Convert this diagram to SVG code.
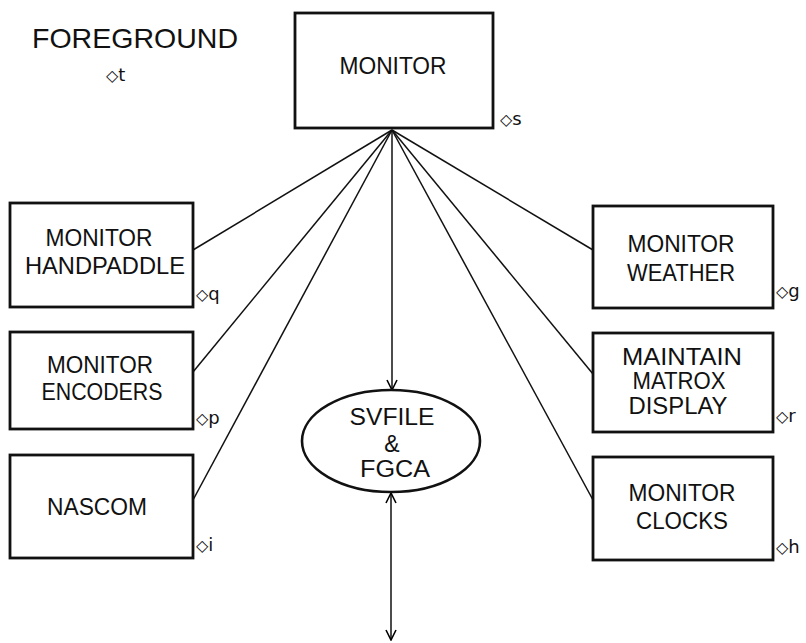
<svg xmlns="http://www.w3.org/2000/svg" width="806" height="643" viewBox="0 0 806 643">
  <defs>
    <marker id="vee" viewBox="0 0 12 12" refX="11" refY="6" markerWidth="12" markerHeight="12" markerUnits="userSpaceOnUse" orient="auto-start-reverse">
      <path d="M1,1 L11,6 L1,11" fill="none" stroke="#000" stroke-width="1.6"/>
    </marker>
  </defs>
  <style>
    .box { fill: #fff; stroke: #111; stroke-width: 2.8; }
    .oval { fill: #fff; stroke: #111; stroke-width: 2.6; }
    .link { fill: none; stroke: #111; stroke-width: 1.5; }
    .lbl { font-family: "Liberation Sans", "DejaVu Sans", sans-serif; font-size: 24px; fill: #111; text-anchor: middle; }
    .stack { font-size: 23px; }
    .tag { font-family: "DejaVu Sans", "Liberation Sans", sans-serif; font-size: 18px; fill: #111; }
    .dia { font-size: 16px; }
    .title { font-family: "Liberation Sans", "DejaVu Sans", sans-serif; font-size: 28px; fill: #111; }
  </style>
  <rect width="806" height="643" fill="#fff"/>

  <g id="title">
    <text class="title" x="32" y="48" textLength="206" lengthAdjust="spacingAndGlyphs">FOREGROUND</text>
    <text class="tag" x="106" y="81"><tspan class="dia">◇</tspan>t</text>
  </g>

  <g id="connectors">
    <line class="link" x1="392" y1="130" x2="193" y2="250"/>
    <line class="link" x1="392" y1="130" x2="193" y2="372"/>
    <line class="link" x1="392" y1="130" x2="193" y2="500"/>
    <line class="link" x1="392" y1="130" x2="593" y2="250"/>
    <line class="link" x1="392" y1="130" x2="593" y2="374"/>
    <line class="link" x1="392" y1="130" x2="593" y2="500"/>
    <line class="link" x1="392" y1="130" x2="392" y2="390" marker-end="url(#vee)"/>
    <line class="link" x1="391" y1="493" x2="391" y2="640" marker-start="url(#vee)" marker-end="url(#vee)"/>
  </g>

  <g id="monitor">
    <rect class="box" x="295" y="13" width="198" height="115"/>
    <text class="lbl" x="393" y="74" textLength="107" lengthAdjust="spacingAndGlyphs">MONITOR</text>
    <text class="tag" x="500" y="125"><tspan class="dia">◇</tspan>s</text>
  </g>

  <g id="monitor-handpaddle">
    <rect class="box" x="10" y="203" width="183" height="104"/>
    <text class="lbl" x="99" y="246" textLength="107" lengthAdjust="spacingAndGlyphs">MONITOR</text>
    <text class="lbl" x="105" y="274" textLength="160" lengthAdjust="spacingAndGlyphs">HANDPADDLE</text>
    <text class="tag" x="196" y="300"><tspan class="dia">◇</tspan>q</text>
  </g>

  <g id="monitor-encoders">
    <rect class="box" x="10" y="332" width="183" height="97"/>
    <text class="lbl" x="100" y="373" textLength="106" lengthAdjust="spacingAndGlyphs">MONITOR</text>
    <text class="lbl" x="102" y="400" textLength="121" lengthAdjust="spacingAndGlyphs">ENCODERS</text>
    <text class="tag" x="196" y="424"><tspan class="dia">◇</tspan>p</text>
  </g>

  <g id="nascom">
    <rect class="box" x="10" y="455" width="183" height="103"/>
    <text class="lbl" x="97" y="515" textLength="100" lengthAdjust="spacingAndGlyphs">NASCOM</text>
    <text class="tag" x="196" y="551"><tspan class="dia">◇</tspan>i</text>
  </g>

  <g id="monitor-weather">
    <rect class="box" x="593" y="206" width="180" height="102"/>
    <text class="lbl" x="681" y="252" textLength="107" lengthAdjust="spacingAndGlyphs">MONITOR</text>
    <text class="lbl" x="681" y="281" textLength="108" lengthAdjust="spacingAndGlyphs">WEATHER</text>
    <text class="tag" x="776" y="297"><tspan class="dia">◇</tspan>g</text>
  </g>

  <g id="maintain-matrox-display">
    <rect class="box" x="593" y="333" width="180" height="99"/>
    <text class="lbl stack" x="682" y="365" textLength="120" lengthAdjust="spacingAndGlyphs">MAINTAIN</text>
    <text class="lbl stack" x="679" y="389" textLength="93" lengthAdjust="spacingAndGlyphs">MATROX</text>
    <text class="lbl stack" x="678" y="414" textLength="99" lengthAdjust="spacingAndGlyphs">DISPLAY</text>
    <text class="tag" x="776" y="422"><tspan class="dia">◇</tspan>r</text>
  </g>

  <g id="monitor-clocks">
    <rect class="box" x="593" y="457" width="180" height="103"/>
    <text class="lbl" x="682" y="501" textLength="107" lengthAdjust="spacingAndGlyphs">MONITOR</text>
    <text class="lbl" x="682" y="529" textLength="92" lengthAdjust="spacingAndGlyphs">CLOCKS</text>
    <text class="tag" x="776" y="553"><tspan class="dia">◇</tspan>h</text>
  </g>

  <g id="svfile-fgca">
    <ellipse class="oval" cx="391" cy="441" rx="89" ry="51"/>
    <text class="lbl stack" x="392" y="425" textLength="85" lengthAdjust="spacingAndGlyphs">SVFILE</text>
    <text class="lbl stack" x="392" y="452">&amp;</text>
    <text class="lbl stack" x="395" y="477" textLength="70" lengthAdjust="spacingAndGlyphs">FGCA</text>
  </g>
</svg>
